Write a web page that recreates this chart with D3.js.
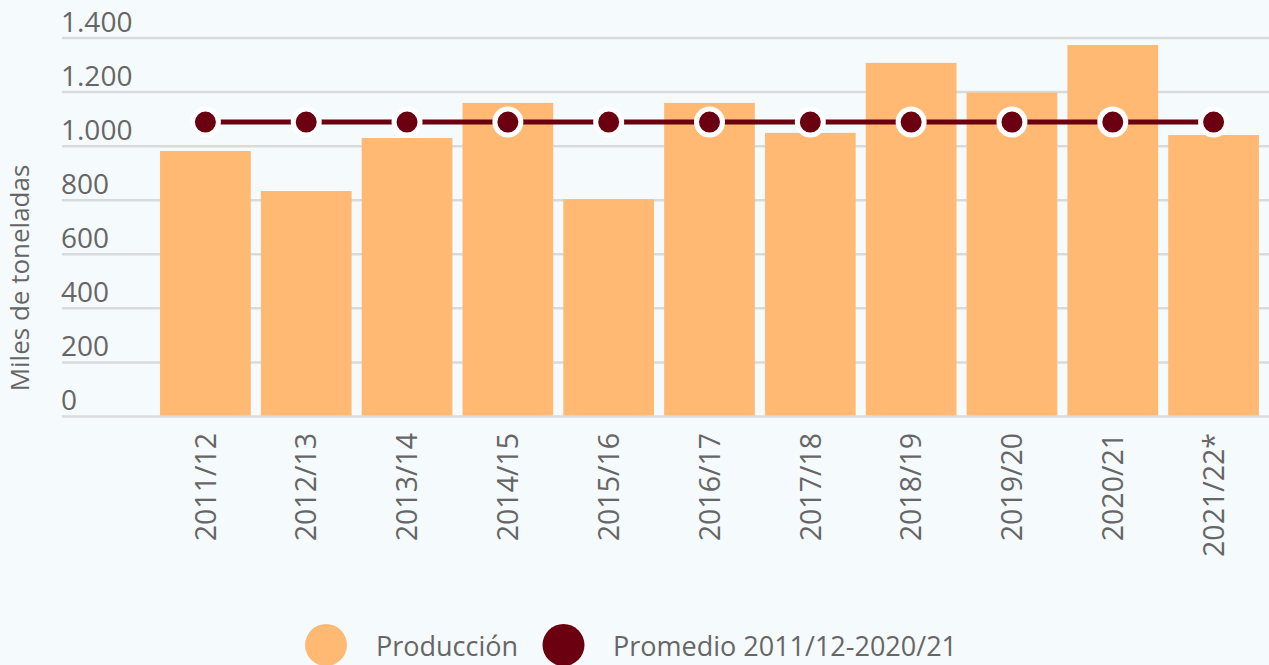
<!DOCTYPE html>
<html>
<head>
<meta charset="utf-8">
<script src="https://cdn.jsdelivr.net/npm/d3@7"></script>
<style>
  html, body { margin: 0; padding: 0; background: #f5fafd; }
  svg { display: block; }
  text { font-family: "Open Sans", "Noto Sans", sans-serif; fill: #666666; }
</style>
</head>
<body>
<svg id="chart" width="1269" height="665"></svg>
<script>
const categories = ["2011/12","2012/13","2013/14","2014/15","2015/16","2016/17","2017/18","2018/19","2019/20","2020/21","2021/22*"];
const produccion = [982, 834, 1030, 1160, 804, 1160, 1049, 1308, 1198, 1374, 1041];
const promedio = [1089, 1089, 1089, 1089, 1089, 1089, 1089, 1089, 1089, 1089, 1089];
const yTicks = [0, 200, 400, 600, 800, 1000, 1200, 1400];
const yTickLabels = ["0", "200", "400", "600", "800", "1.000", "1.200", "1.400"];
const seriesNames = ["Producción", "Promedio 2011/12-2020/21"];
const yTitle = "Miles de toneladas";

const barColor = "#ffb973";
const lineColor = "#6a0010";

const svg = d3.select("#chart");
const W = 1269, H = 665;
svg.append("rect").attr("width", W).attr("height", H).attr("fill", "#f5fafd");

const x = d3.scaleBand().domain(categories).range([155, 1264]).paddingInner(0.1).paddingOuter(0.05);
const y = d3.scaleLinear().domain([0, 1400]).range([416.5, 38]);

// gridlines
const grid = svg.append("g");
grid.selectAll("line").data(yTicks).join("line")
  .attr("x1", 62).attr("x2", W)
  .attr("y1", d => y(d)).attr("y2", d => y(d))
  .attr("stroke", "#d7dbdc").attr("stroke-width", 2.5);

// y tick labels
svg.append("g").selectAll("text").data(yTicks).join("text")
  .attr("x", 61).attr("y", d => y(d) - 6.5)
  .attr("font-size", 28)
  .text((d, i) => yTickLabels[i]);

// y title
svg.append("text")
  .attr("transform", "translate(29,278) rotate(-90)")
  .attr("text-anchor", "middle")
  .attr("font-size", 26)
  .text(yTitle);

// bars
svg.append("g").selectAll("rect").data(produccion).join("rect")
  .attr("x", (d, i) => x(categories[i]))
  .attr("width", x.bandwidth())
  .attr("y", d => y(d))
  .attr("height", d => y(0) - y(d) - 1)
  .attr("fill", barColor);

// x labels
svg.append("g").selectAll("text").data(categories).join("text")
  .attr("transform", d => `translate(${x(d) + x.bandwidth() / 2},433) rotate(-90)`)
  .attr("text-anchor", "end")
  .attr("dy", "0.36em")
  .attr("font-size", 28.5)
  .text(d => d);

// line
const line = d3.line()
  .x((d, i) => x(categories[i]) + x.bandwidth() / 2)
  .y(d => y(d));
svg.append("path").datum(promedio)
  .attr("d", line)
  .attr("fill", "none")
  .attr("stroke", lineColor)
  .attr("stroke-width", 5);

svg.append("g").selectAll("circle").data(promedio).join("circle")
  .attr("cx", (d, i) => x(categories[i]) + x.bandwidth() / 2)
  .attr("cy", d => y(d))
  .attr("r", 13)
  .attr("fill", lineColor)
  .attr("stroke", "#ffffff")
  .attr("stroke-width", 5);

// legend
const legend = [
  { name: seriesNames[0], color: barColor, cx: 326, tx: 376 },
  { name: seriesNames[1], color: lineColor, cx: 563.5, tx: 613 }
];
const lg = svg.append("g");
legend.forEach(l => {
  lg.append("circle").attr("cx", l.cx).attr("cy", 645).attr("r", 21).attr("fill", l.color);
  lg.append("text").attr("x", l.tx).attr("y", 656).attr("font-size", 27).text(l.name);
});
</script>
</body>
</html>
